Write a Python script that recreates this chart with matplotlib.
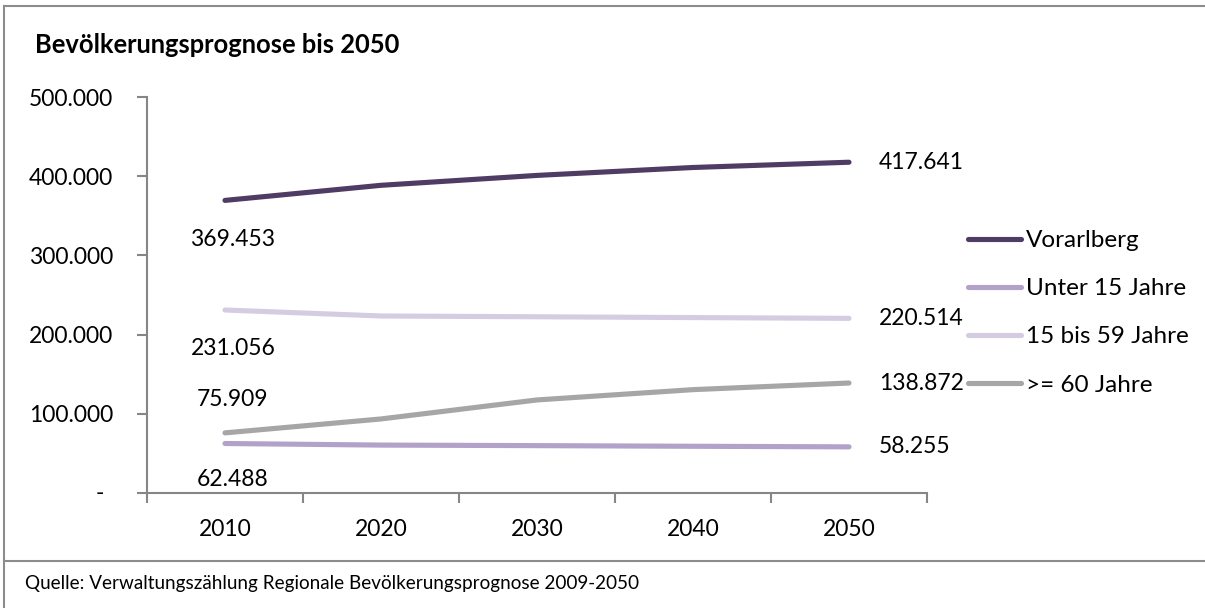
import matplotlib
matplotlib.use("Agg")
import matplotlib.pyplot as plt
from matplotlib.lines import Line2D

years = ["2010", "2020", "2030", "2040", "2050"]
series_names = ["Vorarlberg", "Unter 15 Jahre", "15 bis 59 Jahre", ">= 60 Jahre"]
vorarlberg = [369453, 388500, 401000, 411000, 417641]
unter15 = [62488, 60500, 59800, 59000, 58255]
mitte = [231056, 223500, 222500, 221500, 220514]
ueber60 = [75909, 93500, 117500, 130500, 138872]
yticks = [0, 100000, 200000, 300000, 400000, 500000]
colors = ["#4F3C64", "#B2A1C8", "#D5CCE2", "#A6A6A6"]

plt.rcParams['font.family'] = ['Lato', 'DejaVu Sans']

W, H = 1205, 608
fig = plt.figure(figsize=(W / 100, H / 100), dpi=100)

def fx(px):
    return px / W

def fy(py):
    return 1 - py / H

def fmt(v):
    return f"{v:,}".replace(",", ".")

# outer frame
frame_c = "#8C8C8C"
fig.add_artist(Line2D([fx(4), fx(4)], [fy(6), 0], transform=fig.transFigure, color=frame_c, lw=1.5))
fig.add_artist(Line2D([fx(4), 1], [fy(6), fy(6)], transform=fig.transFigure, color=frame_c, lw=1.5))
fig.add_artist(Line2D([fx(4), 1], [fy(561), fy(561)], transform=fig.transFigure, color=frame_c, lw=1.5))

ax = fig.add_axes([fx(147), fy(493), fx(927) - fx(147), fy(97) - fy(493)])
ax.set_xlim(-0.5, 4.5)
ax.set_ylim(0, 500000)

data = [vorarlberg, unter15, mitte, ueber60]
x = list(range(len(years)))
for name, vals, c in zip(series_names, data, colors):
    ax.plot(x, vals, color=c, lw=3.7, solid_capstyle='round', label=name)

# data labels
fs = 16.5
ax.annotate(fmt(vorarlberg[0]), (0, vorarlberg[0]), xytext=(8, -39), textcoords='offset pixels', ha='center', va='center', fontsize=fs)
ax.annotate(fmt(mitte[0]), (0, mitte[0]), xytext=(8, -38), textcoords='offset pixels', ha='center', va='center', fontsize=fs)
ax.annotate(fmt(ueber60[0]), (0, ueber60[0]), xytext=(8, 33), textcoords='offset pixels', ha='center', va='center', fontsize=fs)
ax.annotate(fmt(unter15[0]), (0, unter15[0]), xytext=(8, -36), textcoords='offset pixels', ha='center', va='center', fontsize=fs)
for vals in data:
    ax.annotate(fmt(vals[-1]), (4, vals[-1]), xytext=(30, 0), textcoords='offset pixels', ha='left', va='center', fontsize=fs)

# axes styling
for s in ["top", "right"]:
    ax.spines[s].set_visible(False)
axis_c = "#868686"
ax.spines["left"].set_color(axis_c)
ax.spines["bottom"].set_color(axis_c)
ax.spines["left"].set_linewidth(1.5)
ax.spines["bottom"].set_linewidth(1.5)

ax.set_yticks(yticks)
ax.set_yticklabels([fmt(v) if v else "" for v in yticks], fontsize=fs)
ax.tick_params(axis='y', length=7, width=1.5, color=axis_c, pad=17.5)
ax.annotate("-", (0, 0), xycoords='axes fraction', xytext=(-47, 0), textcoords='offset pixels',
            ha='center', va='center', fontsize=fs)

ax.set_xticks(x)
ax.set_xticklabels(years, fontsize=fs)
ax.set_xticks([i - 0.5 for i in range(len(years) + 1)], minor=True)
ax.tick_params(axis='x', which='major', length=0, pad=19)
ax.tick_params(axis='x', which='minor', length=7, width=1.5, color=axis_c, direction='out')

# legend
leg = fig.legend(handles=ax.get_lines(), labels=series_names, loc='upper left',
                 bbox_to_anchor=(fx(968), fy(230)), frameon=False, fontsize=17.5,
                 borderpad=0, borderaxespad=0,
                 handlelength=2.2, handletextpad=0.2, labelspacing=1.12)

fig.text(fx(35), fy(45), "Bevölkerungsprognose bis 2050", fontsize=18.4, fontweight='bold', ha='left', va='center')
fig.text(fx(25), fy(584), "Quelle: Verwaltungszählung Regionale Bevölkerungsprognose 2009-2050", fontsize=13.6, ha='left', va='center')

fig.savefig("out.png", dpi=100)
